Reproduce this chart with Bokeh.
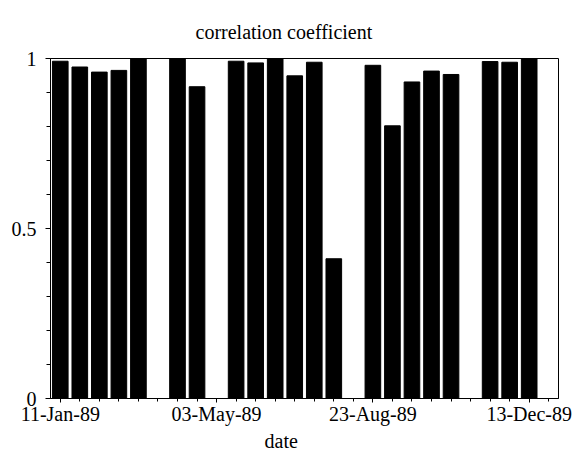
from datetime import datetime
from bokeh.plotting import figure
from bokeh.models import Range1d, FixedTicker, DatetimeTickFormatter, Title, ColumnDataSource
from bokeh.embed import file_html
from bokeh.resources import INLINE

# ---- data ----
dates = ["1989-01-11", "1989-01-25", "1989-02-08", "1989-02-22", "1989-03-08",
         "1989-04-05", "1989-04-19", "1989-05-17", "1989-05-31", "1989-06-14",
         "1989-06-28", "1989-07-12", "1989-07-26", "1989-08-23", "1989-09-06",
         "1989-09-20", "1989-10-04", "1989-10-18", "1989-11-15", "1989-11-29",
         "1989-12-13"]
corr = [0.992, 0.975, 0.960, 0.965, 1.0,
        1.0, 0.917, 0.992, 0.987, 1.0,
        0.949, 0.989, 0.411, 0.980, 0.802,
        0.931, 0.963, 0.953, 0.991, 0.989,
        1.0]
major_tick_dates = ["1989-01-11", "1989-05-03", "1989-08-23", "1989-12-13"]
minor_tick_dates = ["1989-01-11", "1989-01-25", "1989-02-08", "1989-02-22", "1989-03-08",
                    "1989-03-22", "1989-04-05", "1989-04-19", "1989-05-03", "1989-05-17",
                    "1989-05-31", "1989-06-14", "1989-06-28", "1989-07-12", "1989-07-26",
                    "1989-08-09", "1989-08-23", "1989-09-06", "1989-09-20", "1989-10-04",
                    "1989-10-18", "1989-11-01", "1989-11-15", "1989-11-29", "1989-12-13",
                    "1989-12-27"]
y_major = [0, 0.5, 1]
y_minor = [0.1, 0.2, 0.3, 0.4, 0.6, 0.7, 0.8, 0.9]

DAY = 86400000.0


def ms(d):
    return (datetime.strptime(d, "%Y-%m-%d") - datetime(1970, 1, 1)).total_seconds() * 1000.0


FONT = "Liberation Serif"

src = ColumnDataSource(dict(x=[datetime.strptime(d, "%Y-%m-%d") for d in dates], y=corr))

p = figure(width=578, height=451, x_axis_type="datetime",
           x_range=Range1d(ms("1989-01-04"), ms("1990-01-03")),
           y_range=Range1d(0, 1),
           output_backend="svg", toolbar_location=None,
           min_border_left=50, min_border_right=20, min_border_top=58, min_border_bottom=50)

p.vbar(x="x", top="y", width=0.8 * 14 * DAY, source=src, fill_color="black", line_color="black")

p.xgrid.visible = False
p.ygrid.visible = False
p.outline_line_color = "black"
p.outline_line_width = 1
p.background_fill_color = "white"
p.border_fill_color = "white"

p.xaxis.ticker = FixedTicker(ticks=[ms(d) for d in major_tick_dates],
                             minor_ticks=[ms(d) for d in minor_tick_dates])
fmt = "%d-%b-%y"
p.xaxis.formatter = DatetimeTickFormatter(days=fmt, months=fmt, years=fmt, hours=fmt,
                                          minutes=fmt, seconds=fmt, context=None)
p.yaxis.ticker = FixedTicker(ticks=y_major, minor_ticks=y_minor)
p.yaxis.major_label_overrides = {0: "0", 0.5: "0.5", 1: "1"}

for ax in (p.xaxis[0], p.yaxis[0]):
    ax.axis_line_color = "black"
    ax.major_tick_line_color = "black"
    ax.minor_tick_line_color = "black"
    ax.major_tick_in = 0
    ax.major_tick_out = 5
    ax.minor_tick_in = 0
    ax.minor_tick_out = 4
    ax.major_label_text_font = FONT
    ax.major_label_text_font_size = "20px"
    ax.major_label_text_color = "black"

p.xaxis.major_tick_out = 4
p.xaxis.minor_tick_out = 3
p.xaxis.major_label_standoff = 0
p.yaxis.major_label_standoff = 9

p.title.text = "correlation coefficient"
p.title.align = "left"
p.title.offset = 145
p.title.standoff = 32
p.title.text_font = FONT
p.title.text_font_size = "20px"
p.title.text_font_style = "normal"
p.title.text_color = "black"

p.add_layout(Title(text="date", align="left", offset=214, standoff=0,
                   text_font=FONT, text_font_size="20px", text_font_style="normal",
                   text_color="black"), "below")

open("out.html", "w").write(file_html(p, INLINE))
